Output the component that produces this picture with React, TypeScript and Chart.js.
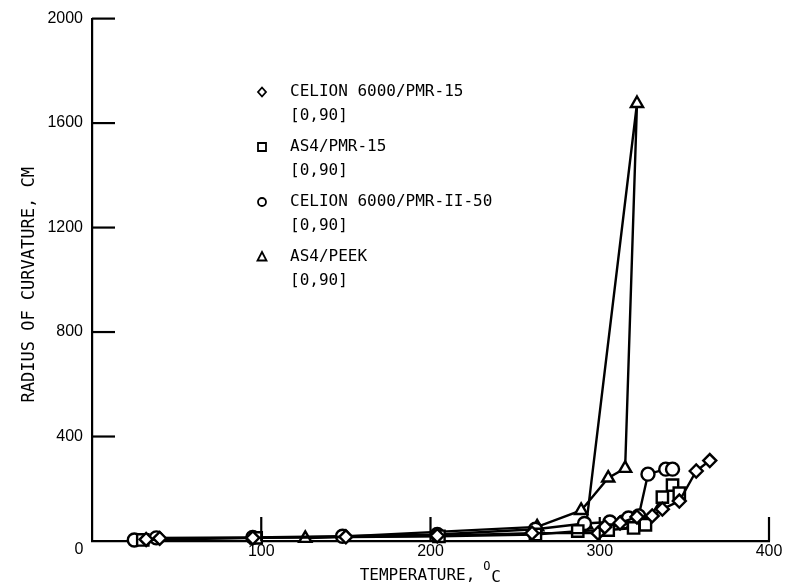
import React, { useEffect, useRef } from 'react';
import { Chart, registerables } from 'chart.js';

Chart.register(...registerables);

const xTicks = [0, 100, 200, 300, 400];
const yTicks = [0, 400, 800, 1200, 1600, 2000];

const seriesLabels = ['CELION 6000/PMR-15', 'AS4/PMR-15', 'CELION 6000/PMR-II-50', 'AS4/PEEK'];
const layupLabel = '[0,90]';

const celionPmr15T = [32, 40, 95, 150, 204, 260, 299, 303, 312, 322, 331, 337, 347, 357, 365];
const celionPmr15R = [6, 10, 12, 16, 20, 30, 30, 54, 69, 92, 96, 122, 153, 268, 308];

const as4Pmr15T = [30, 97, 205, 262, 287, 305, 320, 327, 337, 343, 347];
const as4Pmr15R = [4, 12, 18, 25, 38, 42, 50, 62, 168, 214, 183];

const celionPmrII50T = [25, 38, 95, 148, 204, 262, 291, 306, 314, 317, 323, 328.5, 339, 343];
const celionPmrII50R = [4, 12, 14, 18, 25, 45, 67, 73, 73, 88, 96, 256, 275, 275];

const as4PeekT = [126, 263, 289, 305, 315, 322, 292];
const as4PeekR = [10, 54, 117, 241, 278, 1675, 62];

const pts = (t: number[], r: number[]) => t.map((v, i) => ({ x: v, y: r[i] }));

const styles = ['rectRot', 'rect', 'circle', 'triangle'];
const radii = [6.5, 8, 6.5, 7];

const MONO = '"DejaVu Sans Mono", monospace';

const decor = {
  id: 'decor',
  afterDraw(chart: any) {
    const ctx = chart.ctx as CanvasRenderingContext2D;
    const xs = chart.scales.x;
    const ys = chart.scales.y;
    const ca = chart.chartArea;
    ctx.save();
    ctx.strokeStyle = '#000';
    ctx.fillStyle = '#000';
    ctx.lineWidth = 2.2;
    // inward ticks
    for (const v of yTicks) {
      if (v === 0) continue;
      const y = ys.getPixelForValue(v);
      ctx.beginPath();
      ctx.moveTo(ca.left, y);
      ctx.lineTo(ca.left + 23, y);
      ctx.stroke();
    }
    for (const v of xTicks) {
      if (v === 0) continue;
      const x = xs.getPixelForValue(v);
      ctx.beginPath();
      ctx.moveTo(x, ca.bottom);
      ctx.lineTo(x, ca.bottom - 24);
      ctx.stroke();
    }
    // shared zero label
    ctx.font = '16px "Liberation Sans", Arial, sans-serif';
    ctx.textAlign = 'center';
    ctx.textBaseline = 'middle';
    ctx.fillText('0', ca.left - 13, ca.bottom + 9);

    // legend
    const rowsY = [92, 147, 202, 257];
    ctx.font = '16px ' + MONO;
    ctx.textAlign = 'left';
    ctx.textBaseline = 'middle';
    seriesLabels.forEach((lab, i) => {
      const y = rowsY[i];
      const sx = 262;
      ctx.lineWidth = 1.8;
      ctx.fillStyle = '#fff';
      ctx.beginPath();
      const st = styles[i];
      if (st === 'rectRot') {
        ctx.moveTo(sx, y - 4.5); ctx.lineTo(sx + 4, y); ctx.lineTo(sx, y + 4.5); ctx.lineTo(sx - 4, y); ctx.closePath();
      } else if (st === 'rect') {
        ctx.rect(sx - 4, y - 4, 8, 8);
      } else if (st === 'circle') {
        ctx.arc(sx, y, 4, 0, Math.PI * 2);
      } else {
        ctx.moveTo(sx, y - 5); ctx.lineTo(sx + 4.5, y + 3.5); ctx.lineTo(sx - 4.5, y + 3.5); ctx.closePath();
      }
      ctx.fill();
      ctx.stroke();
      ctx.fillStyle = '#000';
      ctx.fillText(lab, 290, y);
      ctx.fillText(layupLabel, 290, y + 24);
    });

    // x title
    ctx.font = '16px ' + MONO;
    const t1 = 'TEMPERATURE,';
    const w1 = ctx.measureText(t1).width;
    const total = w1 + 26;
    const x0 = (ca.left + ca.right) / 2 - total / 2;
    ctx.textAlign = 'left';
    ctx.fillText(t1, x0, 576);
    ctx.font = '12px ' + MONO;
    ctx.fillText('O', x0 + w1 + 8, 567);
    ctx.font = '16px ' + MONO;
    ctx.fillText('C', x0 + w1 + 16, 578);

    // y title
    ctx.translate(30, (ca.top + ca.bottom) / 2 + 5);
    ctx.rotate(-Math.PI / 2);
    ctx.textAlign = 'center';
    ctx.font = '17px ' + MONO;
    ctx.fillText('RADIUS OF CURVATURE, CM', 0, 0);
    ctx.restore();
  },
};

export default function App() {
  const ref = useRef<HTMLCanvasElement | null>(null);
  useEffect(() => {
    if (!ref.current) return;
    const mk = (label: string, t: number[], r: number[], i: number) => ({
      label,
      data: pts(t, r),
      showLine: true,
      borderColor: '#000',
      borderWidth: 2.4,
      backgroundColor: '#fff',
      pointBackgroundColor: '#fff',
      pointBorderColor: '#000',
      pointBorderWidth: 2.4,
      pointStyle: styles[i],
      pointRadius: radii[i],
      pointHoverRadius: radii[i],
      tension: 0,
      clip: false,
    });
    const chart = new Chart(ref.current, {
      type: 'scatter',
      data: {
        datasets: [
          mk(seriesLabels[0], celionPmr15T, celionPmr15R, 0),
          mk(seriesLabels[1], as4Pmr15T, as4Pmr15R, 1),
          mk(seriesLabels[2], celionPmrII50T, celionPmrII50R, 2),
          mk(seriesLabels[3], as4PeekT, as4PeekR, 3),
        ] as any,
      },
      options: {
        animation: false,
        responsive: false,
        layout: { padding: { top: 18, right: 16, left: 0, bottom: 0 } },
        plugins: { legend: { display: false }, tooltip: { enabled: false } },
        scales: {
          x: {
            type: 'linear',
            min: 0,
            max: 400,
            afterFit: (s: any) => { s.height = 47; },
            afterBuildTicks: (s: any) => { s.ticks = xTicks.map((v) => ({ value: v })); },
            ticks: {
              color: '#000',
              padding: 1,
              font: { family: '"Liberation Sans", Arial, sans-serif', size: 16 },
              callback: (v: any) => (v === 0 ? '' : String(v)),
            },
            grid: { display: false, drawTicks: false },
            border: { display: true, color: '#000', width: 2.2 },
          },
          y: {
            type: 'linear',
            min: 0,
            max: 2000,
            afterFit: (s: any) => { s.width = 92; },
            afterBuildTicks: (s: any) => { s.ticks = yTicks.map((v) => ({ value: v })); },
            ticks: {
              color: '#000',
              padding: 9,
              font: { family: '"Liberation Sans", Arial, sans-serif', size: 16 },
              callback: (v: any) => (v === 0 ? '' : String(v)),
            },
            grid: { display: false, drawTicks: false },
            border: { display: true, color: '#000', width: 2.2 },
          },
        },
      },
      plugins: [decor],
    });
    return () => chart.destroy();
  }, []);
  return (
    <div style={{ position: 'fixed', left: 0, top: 0, width: 785, height: 588, background: '#fff' }}>
      <canvas ref={ref} width={785} height={588} style={{ width: 785, height: 588, display: 'block' }} />
    </div>
  );
}
